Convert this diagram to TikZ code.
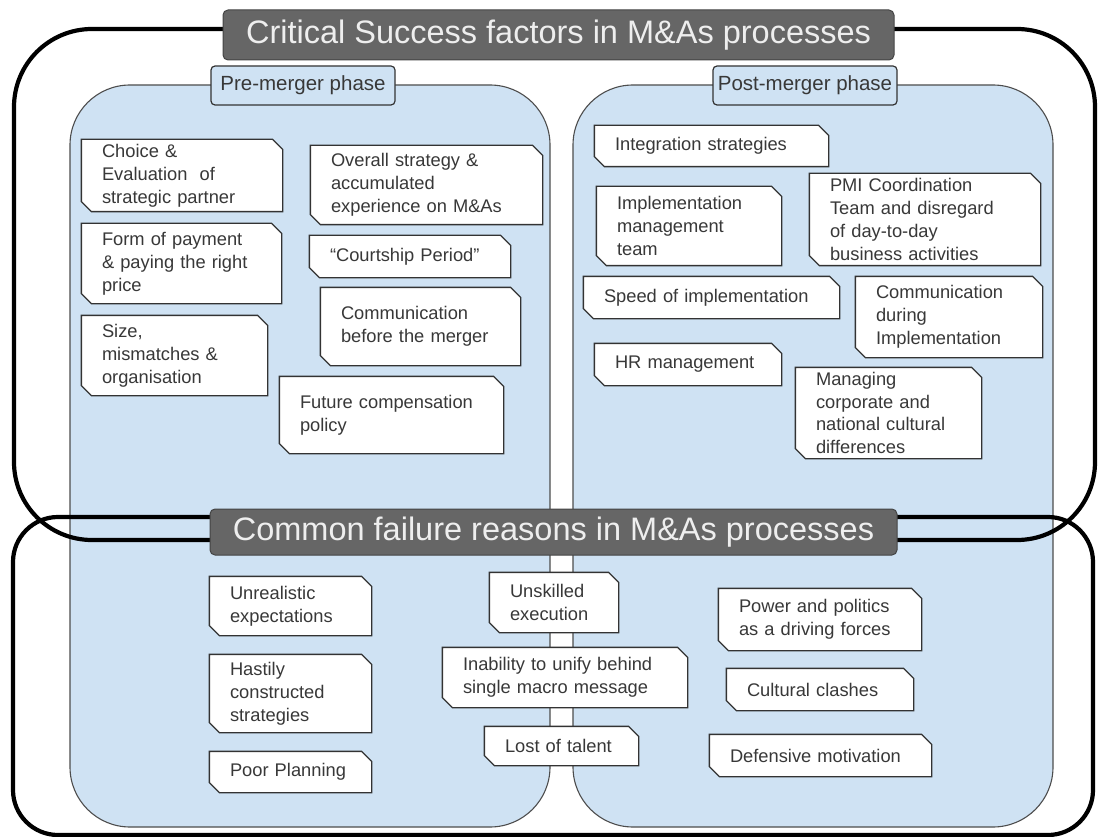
\documentclass[tikz,border=0pt]{standalone}
\usepackage{fontspec}
\setmainfont{Liberation Sans}

\definecolor{paleblue}{HTML}{CFE2F3}
\definecolor{boxedge}{HTML}{4D4D4D}
\definecolor{cardedge}{HTML}{333333}
\definecolor{inktext}{HTML}{383838}
\definecolor{titlefill}{HTML}{666666}
\definecolor{titleedge}{HTML}{444444}
\definecolor{titleink}{HTML}{EEEEEE}

% white card with the top-right and bottom-left corners cut off
\makeatletter
\newdimen\cardL \newdimen\cardR \newdimen\cardB \newdimen\cardT
\def\cardcut{10pt}
\pgfdeclareshape{snipcard}{%
  \inheritsavedanchors[from=rectangle]%
  \inheritanchorborder[from=rectangle]%
  \inheritanchor[from=rectangle]{center}%
  \inheritanchor[from=rectangle]{north}%
  \inheritanchor[from=rectangle]{south}%
  \inheritanchor[from=rectangle]{east}%
  \inheritanchor[from=rectangle]{west}%
  \inheritanchor[from=rectangle]{north east}%
  \inheritanchor[from=rectangle]{north west}%
  \inheritanchor[from=rectangle]{south east}%
  \inheritanchor[from=rectangle]{south west}%
  \backgroundpath{%
    \southwest \global\cardL=\pgf@x \global\cardB=\pgf@y
    \northeast \global\cardR=\pgf@x \global\cardT=\pgf@y
    \pgfpathmoveto{\pgfqpoint{\cardL}{\cardT}}%
    \pgfpathlineto{\pgfqpoint{\dimexpr\cardR-\cardcut\relax}{\cardT}}%
    \pgfpathlineto{\pgfqpoint{\cardR}{\dimexpr\cardT-\cardcut\relax}}%
    \pgfpathlineto{\pgfqpoint{\cardR}{\cardB}}%
    \pgfpathlineto{\pgfqpoint{\dimexpr\cardL+\cardcut\relax}{\cardB}}%
    \pgfpathlineto{\pgfqpoint{\cardL}{\dimexpr\cardB+\cardcut\relax}}%
    \pgfpathclose
  }%
}
\makeatother

\tikzset{
  frame/.style={draw=black, line width=4.2pt, fill=none},
  phasebox/.style={draw=boxedge, line width=1.1pt, fill=paleblue, rounded corners=60pt},
  phaselabel/.style={draw=cardedge, line width=1.2pt, fill=paleblue, rounded corners=4pt,
    text=inktext, font=\fontsize{20.5}{24}\selectfont, inner sep=0pt,
    minimum width=184pt, minimum height=39pt},
  titlebar/.style={draw=titleedge, line width=1pt, fill=titlefill, rounded corners=5pt,
    text=titleink, font=\fontsize{32.5}{38}\selectfont, inner sep=0pt},
  card/.style={shape=snipcard, draw=cardedge, fill=white, line width=1.3pt,
    text=inktext, font=\fontsize{18.3}{22.8}\selectfont, align=left,
    inner xsep=20pt, inner ysep=0pt},
}

% name, centre x, centre y, width, height, text
\newcommand\cardnode[6]{%
  \pgfmathsetlengthmacro\cardtw{#4-40}%
  \node[card, minimum width=#4pt, minimum height=#5pt, text width=\cardtw] (#1) at (#2,#3) {#6};%
}

\begin{document}
\begin{tikzpicture}[x=1pt, y=-1pt]
\useasboundingbox (0,0) rectangle (1098,837);

% the two phase panels
\node[phasebox, minimum width=480pt, minimum height=742pt] (pre) at (310,456) {};
\node[phasebox, minimum width=480pt, minimum height=742pt] (post) at (813,456) {};
\node[phaselabel] (prelabel) at (303,85.5) {Pre-merger phase};
\node[phaselabel] (postlabel) at (805,85.5) {Post-merger phase};

% thick outlines of the two groups
\node[frame, rounded corners=78pt, minimum width=1081pt, minimum height=511pt, inner sep=0pt] (success) at (554.5,284.5) {};
\node[frame, rounded corners=45pt, minimum width=1080pt, minimum height=318pt, inner sep=0pt] (failure) at (553,676) {};

% group titles
\node[titlebar, minimum width=671pt, minimum height=50pt] (successtitle) at (558.5,35) {Critical Success factors in M\&As processes};
\node[titlebar, minimum width=687pt, minimum height=46pt] (failuretitle) at (553.5,532) {Common failure reasons in M\&As processes};

% pre-merger factors
\cardnode{choice}{182}{175.5}{200}{71}{Choice \&\\Evaluation\ \ of\\strategic partner}
\cardnode{overall}{426.5}{185}{231}{78}{Overall strategy \&\\accumulated\\experience on M\&As}
\cardnode{payment}{181.5}{263.5}{199}{79}{Form of payment\\\& paying the right\\price}
\cardnode{courtship}{410}{256.5}{200}{41}{“Courtship Period”}
\cardnode{size}{174.5}{355.5}{185}{79}{Size,\\mismatches \&\\organisation}
\cardnode{commbefore}{420.5}{326.5}{199}{77}{Communication\\before the merger}
\cardnode{compensation}{391.5}{415}{223}{76}{Future compensation\\policy}

% post-merger factors
\cardnode{integration}{711.5}{146}{233}{40}{Integration strategies}
\cardnode{implteam}{689}{226}{184}{78}{Implementation\\management\\team}
\cardnode{pmi}{925}{219.5}{230}{91}{PMI Coordination\\Team and disregard\\of day-to-day\\business activities}
\cardnode{speed}{711.5}{297.5}{255}{41}{Speed of implementation}
\cardnode{commduring}{949}{317}{186}{80}{Communication\\during\\Implementation}
\cardnode{hr}{688}{364.5}{186}{41}{HR management}
\cardnode{cultural}{888.5}{413}{185}{90}{Managing\\corporate and\\national cultural\\differences}

% failure reasons
\cardnode{unrealistic}{290.5}{606}{161}{58}{Unrealistic\\expectations}
\cardnode{hastily}{290.5}{693.5}{161}{77}{Hastily\\constructed\\strategies}
\cardnode{planning}{290.5}{772}{161}{40}{Poor Planning}
\cardnode{unskilled}{554}{602.5}{128}{59}{Unskilled\\execution}
\cardnode{inability}{565}{677.5}{244}{59}{Inability to unify behind\\single macro message}
\cardnode{talent}{561.5}{746}{153}{38}{Lost of talent}
\cardnode{power}{820}{619.5}{202}{61}{Power and politics\\as a driving forces}
\cardnode{clashes}{820}{689.5}{186}{41}{Cultural clashes}
\cardnode{defensive}{820.5}{755.5}{221}{41}{Defensive motivation}
\end{tikzpicture}
\end{document}
